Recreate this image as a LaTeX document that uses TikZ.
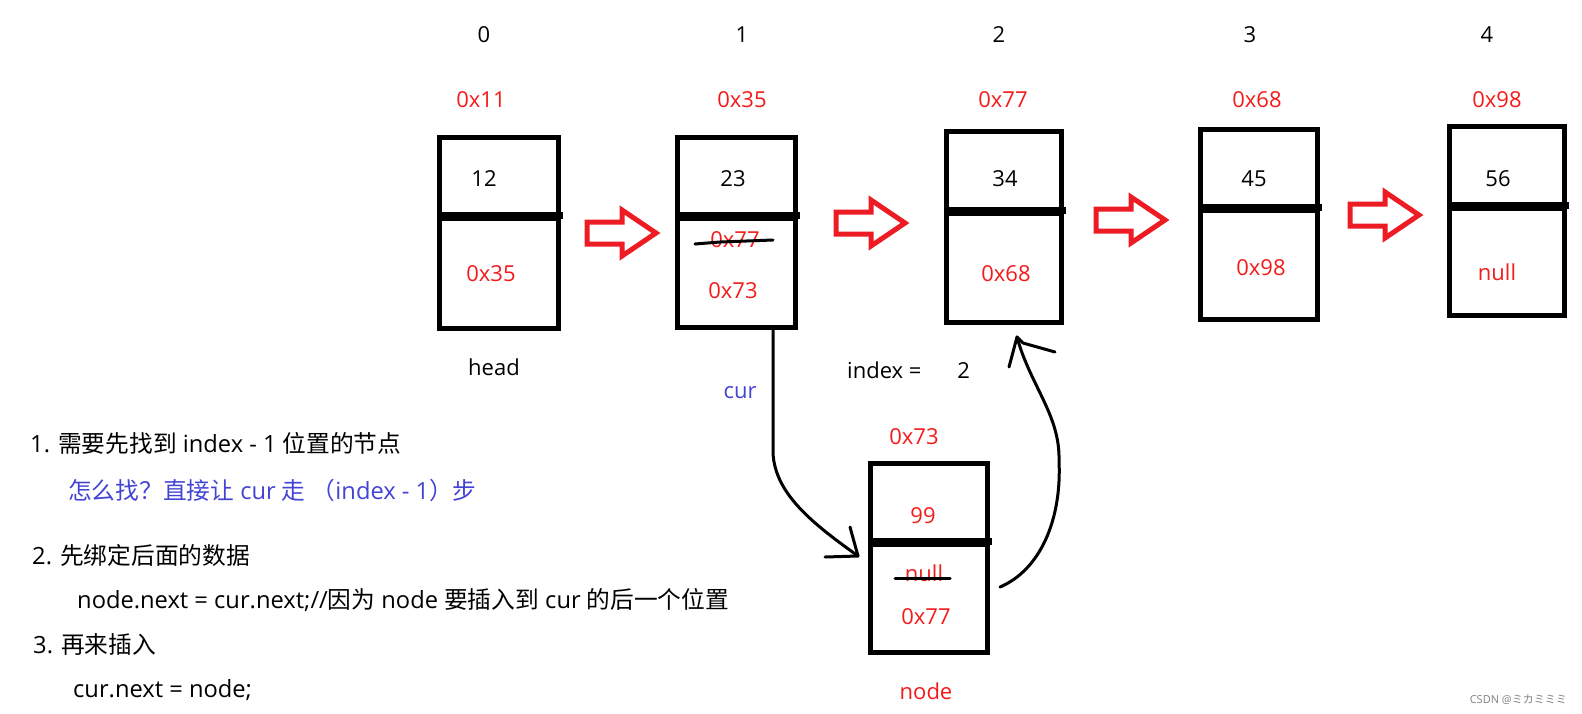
\documentclass[tikz,border=0pt]{standalone}
\usepackage{fontspec}
\setmainfont{Open Sans}
\newfontfamily\cjk{Noto Sans CJK SC}
\definecolor{pred}{HTML}{ED1C24}
\definecolor{tred}{HTML}{F41A1A}
\definecolor{tblue}{HTML}{4343D4}
\tikzset{
  txt/.style={font=\fontsize{22}{26}\selectfont, inner sep=0pt},
  ltxt/.style={font=\fontsize{23.7}{28}\selectfont, inner sep=0pt, anchor=west},
  redtxt/.style={txt, text=tred},
  bluetxt/.style={txt, text=tblue},
  cell/.style={draw, line width=5pt, minimum width=#1, inner sep=0pt},
  divline/.style={line width=7pt},
  hand/.style={line width=3pt, line cap=round, line join=round},
  blockarrow/.style={draw=pred, line width=5pt, line join=miter},
  redarrow/.pic={\draw[blockarrow] (0,-11) -- (35,-11) -- (35,-23) -- (69,0) -- (35,23) -- (35,11) -- (0,11) -- cycle;}
}
\begin{document}
\begin{tikzpicture}[x=1pt,y=-1pt]
\useasboundingbox (0,0) rectangle (1582,713);
% boxes
\node[cell=119pt, minimum height=81pt]  (b0top) at (499,177.5) {};
\node[cell=119pt, minimum height=110pt] (b0bot) at (499,273) {};
\node[cell=118pt, minimum height=81pt]  (b1top) at (736,177.5) {};
\node[cell=118pt, minimum height=109pt] (b1bot) at (736,272.5) {};
\node[cell=115pt, minimum height=82pt]  (b2top) at (1003.5,172) {};
\node[cell=115pt, minimum height=109pt] (b2bot) at (1003.5,267.5) {};
\node[cell=117pt, minimum height=81pt]  (b3top) at (1258.5,169.5) {};
\node[cell=117pt, minimum height=109pt] (b3bot) at (1258.5,264.5) {};
\node[cell=115pt, minimum height=82pt]  (b4top) at (1506.5,167) {};
\node[cell=115pt, minimum height=107pt] (b4bot) at (1506.5,261.5) {};
\node[cell=117pt, minimum height=81pt]  (ntop) at (928.5,503.5) {};
\node[cell=117pt, minimum height=108pt] (nbot) at (928.5,598) {};
\foreach \b in {b0,b1,b2,b3,b4,n}
  \draw[divline] (\b bot.north west) -- ([xshift=2pt]\b bot.north east);
% index labels
\node[txt] (i0) at (484,35) {0};
\node[txt] (i1) at (742,35) {1};
\node[txt] (i2) at (999,35) {2};
\node[txt] (i3) at (1250,35) {3};
\node[txt] (i4) at (1487,35) {4};
% addresses
\node[redtxt] (a0) at (481,100) {0x11};
\node[redtxt] (a1) at (742,100) {0x35};
\node[redtxt] (a2) at (1003,100) {0x77};
\node[redtxt] (a3) at (1257,100) {0x68};
\node[redtxt] (a4) at (1497,100) {0x98};
\node[redtxt] (an) at (914,437) {0x73};
% values
\node[txt] (v0) at (484,179) {12};
\node[redtxt] (p0) at (491,274) {0x35};
\node[txt] (v1) at (733,179) {23};
\node[redtxt] (p1old) at (735,240) {0x77};
\node[redtxt] (p1) at (733,291) {0x73};
\node[txt] (v2) at (1005,179) {34};
\node[redtxt] (p2) at (1006,274) {0x68};
\node[txt] (v3) at (1254,179) {45};
\node[redtxt] (p3) at (1261,268) {0x98};
\node[txt] (v4) at (1498,179) {56};
\node[redtxt] (p4) at (1497,272) {null};
\node[redtxt] (vn) at (923,516) {99};
\node[redtxt] (pnold) at (924,573) {null};
\node[redtxt] (pn) at (926,617) {0x77};
% strikes
\draw[hand] (695,244) -- (720,242) -- (773,240);
\draw[hand] (895,578) -- (950,578);
% labels
\node[txt] (head) at (494,367) {head};
\node[bluetxt] (cur) at (740,393) {cur};
\node[txt, anchor=west] (idx) at (847,370) {index =\hspace{36pt}2};
\node[redtxt] (nodelbl) at (926,691) {node};
% red block arrows
\pic at (587,233) {redarrow};
\pic at (836,223) {redarrow};
\pic at (1096,220) {redarrow};
\pic at (1350,215) {redarrow};
% hand-drawn connectors
\coordinate (curend) at (858,556);
\draw[hand] ([xshift=37pt]b1bot.south) -- (773,453) .. controls (775,495) and (815,525) .. (curend);
\draw[hand] (curend) -- ++(-8,-29);
\draw[hand] (curend) -- ++(-33,1);
\coordinate (rstart) at (1000,587);
\coordinate (rend) at (1017,337);
\draw[hand] (rstart) .. controls (1040,570) and (1062,520) .. (1059,460) .. controls (1060,415) and (1030,385) .. (rend);
\draw[hand] (rend) -- ++(-8,30);
\draw[hand] (rend) -- ++(6,6) -- ++(32,9);
% explanation text
\node[ltxt] (s1) at (30,443) {1. {\cjk 需要先找到} index - 1 {\cjk 位置的节点}};
\node[ltxt, text=tblue] (s1b) at (68,490) {{\cjk 怎么找？直接让} cur {\cjk 走} {\cjk （}index - 1{\cjk ）步}};
\node[ltxt] (s2) at (32,555) {2. {\cjk 先绑定后面的数据}};
\node[ltxt] (s2b) at (77,600) {node.next = cur.next;//{\cjk 因为} node {\cjk 要插入到} cur {\cjk 的后一个位置}};
\node[ltxt] (s3) at (33,645) {3. {\cjk 再来插入}};
\node[ltxt] (s3b) at (73,690) {cur.next = node;};
\node[font=\fontsize{11}{13}\selectfont, text=gray, anchor=east, inner sep=0pt] (wm) at (1567,700) {CSDN @{\cjk ミカミミミ}};
\end{tikzpicture}
\end{document}
